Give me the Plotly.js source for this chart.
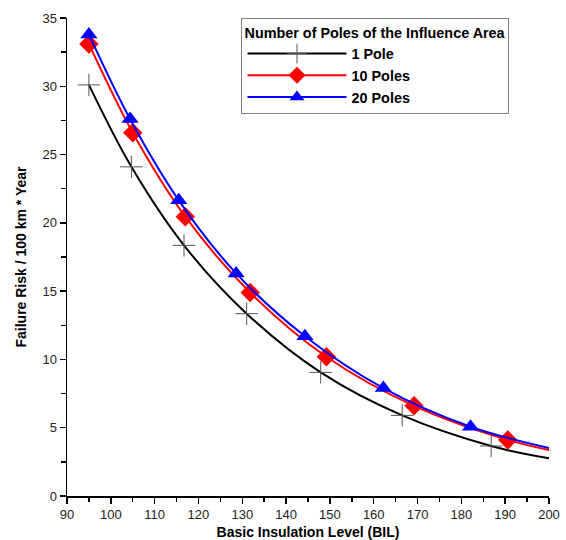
<!DOCTYPE html>
<html>
<head>
<meta charset="utf-8">
<script src="https://cdn.plot.ly/plotly-3.0.1.min.js"></script>
<style>html,body{margin:0;padding:0;background:#fff;}#chart{width:566px;height:540px;}</style>
</head>
<body>
<div id="chart"></div>
<script>
// Data
const bil1 = [95, 104.7, 116.7, 131.0, 147.9, 166.5, 186.8, 200];
const risk1 = [30.1, 24.1, 18.35, 13.35, 9.05, 5.9, 3.66, 2.76];
const bil10 = [95, 105.0, 117.0, 131.8, 149.2, 169.2, 190.6, 200];
const risk10 = [33.1, 26.6, 20.45, 14.9, 10.2, 6.6, 4.1, 3.37];
const bil20 = [95, 104.4, 115.5, 128.6, 144.3, 162.2, 182.1, 200];
const risk20 = [33.8, 27.6, 21.65, 16.3, 11.7, 7.9, 5.07, 3.52];
const seriesNames = ['1 Pole', '10 Poles', '20 Poles'];
const legendTitle = 'Number of Poles of the Influence Area';
const xTitle = 'Basic Insulation Level (BIL)';
const yTitle = 'Failure Risk / 100 km * Year';

function sizes(n, s) { return Array.from({length: n}, (_, i) => i === n - 1 ? 0 : s); }

const fam = 'Liberation Sans, Arial, sans-serif';

const traces = [
  {x: bil1, y: risk1, name: seriesNames[0], mode: 'lines+markers',
   line: {color: '#000', width: 2, shape: 'spline'},
   marker: {symbol: 'cross-thin', size: sizes(bil1.length, 16), color: '#555', opacity: 1, line: {color: '#555', width: 1}}},
  {x: bil10, y: risk10, name: seriesNames[1], mode: 'lines+markers',
   line: {color: '#ff0000', width: 2, shape: 'spline'},
   marker: {symbol: 'diamond', size: sizes(bil10.length, 15), color: '#ff0000', opacity: 1, line: {width: 0}}},
  {x: bil20, y: risk20, name: seriesNames[2], mode: 'lines+markers',
   line: {color: '#0000ff', width: 2, shape: 'spline'},
   marker: {symbol: 'triangle-up', size: sizes(bil20.length, 15), color: '#0000ff', opacity: 1, line: {width: 0}}}
];

const layout = {
  width: 566, height: 540,
  margin: {l: 67, r: 17, t: 18, b: 44, pad: 0},
  paper_bgcolor: '#ffffff',
  plot_bgcolor: '#ffffff',
  font: {family: fam, size: 12, color: '#000'},
  showlegend: true,
  legend: {
    x: 0.362, y: 1, xanchor: 'left', yanchor: 'top',
    bgcolor: '#ffffff', bordercolor: '#808080', borderwidth: 1,
    font: {family: fam, size: 14.4, weight: 'bold', color: '#000'},
    title: {text: legendTitle, side: 'top', font: {family: fam, size: 14.4, weight: 'bold', color: '#000'}},
    tracegroupgap: 0, itemwidth: 99
  },
  xaxis: {
    range: [90, 200], dtick: 10, tick0: 90,
    showgrid: false, zeroline: false,
    showline: true, linecolor: '#000', linewidth: 1.5,
    ticks: 'outside', ticklen: 6, tickwidth: 1.5, tickcolor: '#000',
    minor: {dtick: 5, ticks: 'outside', ticklen: 4, tickwidth: 1.5, tickcolor: '#000', showgrid: false},
    tickfont: {family: fam, size: 13, color: '#222'},
    title: {text: xTitle, standoff: 6, font: {family: fam, size: 14, weight: 'bold', color: '#000'}}
  },
  yaxis: {
    range: [0, 35], dtick: 5, tick0: 0,
    showgrid: false, zeroline: false,
    showline: true, linecolor: '#000', linewidth: 1.5,
    ticks: 'outside', ticklen: 6, tickwidth: 1.5, tickcolor: '#000',
    minor: {dtick: 2.5, ticks: 'outside', ticklen: 5, tickwidth: 1.5, tickcolor: '#000', showgrid: false},
    tickfont: {family: fam, size: 13, color: '#222'},
    title: {text: yTitle, standoff: 12, font: {family: fam, size: 14, weight: 'bold', color: '#000'}}
  }
};

Plotly.newPlot('chart', traces, layout, {displayModeBar: false, staticPlot: true});
</script>
</body>
</html>
